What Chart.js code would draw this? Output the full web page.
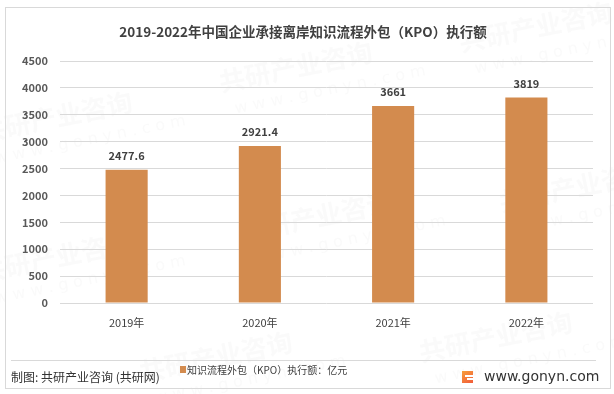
<!DOCTYPE html>
<html>
<head>
<meta charset="utf-8">
<script src="https://cdn.jsdelivr.net/npm/chart.js@4.4.1/dist/chart.umd.min.js"></script>
<style>
  html, body { margin: 0; padding: 0; background: #fff; }
  #wrap { width: 614px; height: 394px; }
</style>
</head>
<body>
<div id="wrap"><canvas id="myChart" width="614" height="394"></canvas></div>
<script>
const years = ["2019年", "2020年", "2021年", "2022年"];
const kpoValues = [2477.6, 2921.4, 3661, 3819];
const valueLabels = ["2477.6", "2921.4", "3661", "3819"];
const yTicks = [0, 500, 1000, 1500, 2000, 2500, 3000, 3500, 4000, 4500];

const titleText = "2019-2022年中国企业承接离岸知识流程外包（KPO）执行额";
const legendText = "知识流程外包（KPO）执行额：亿元";
const barColor = "#d38b4e";
const cjk = "'Noto Sans CJK SC', 'Noto Sans', sans-serif";

// background, watermark, frame, title, value labels and footer
const decor = {
  id: "decor",
  beforeDraw(chart) {
    const c = chart.ctx;
    c.save();
    c.fillStyle = "#fff";
    c.fillRect(0, 0, chart.width, chart.height);
    // faint watermark
    c.fillStyle = "rgba(190,190,190,0.08)";
    const marks = [[40, 130], [280, 80], [520, 40], [40, 270], [300, 230], [560, 200], [200, 370], [480, 350]];
    marks.forEach(([x, y]) => {
      c.save();
      c.translate(x, y);
      c.rotate(-0.2);
      c.font = "bold 26px " + cjk;
      c.fillText("共研产业咨询", -60, 0);
      c.font = "16px 'DejaVu Sans'";
      c.fillText("w w w . g o n y n . c o m", -50, 24);
      c.restore();
    });
    c.restore();
  },
  afterDatasetsDraw(chart) {
    const c = chart.ctx;
    c.save();
    // value labels
    c.font = "bold 11px " + cjk;
    c.fillStyle = "#404040";
    c.textAlign = "center";
    c.textBaseline = "middle";
    chart.getDatasetMeta(0).data.forEach((bar, i) => {
      c.fillText(valueLabels[i], bar.x, bar.y - 14);
    });
    c.restore();
  },
  afterDraw(chart) {
    const c = chart.ctx;
    c.save();
    // frame
    c.strokeStyle = "#d9d9d9";
    c.lineWidth = 1;
    c.strokeRect(5.5, 7.5, 605, 381);
    // title
    c.font = "bold 13.5px " + cjk;
    c.fillStyle = "#404040";
    c.textAlign = "center";
    c.textBaseline = "middle";
    c.fillText(titleText, 303, 32);
    // separator
    c.beginPath();
    c.moveTo(11, 360.5);
    c.lineTo(596, 360.5);
    c.stroke();
    // footer left
    c.textAlign = "left";
    c.fillStyle = "#333";
    c.font = "12px " + cjk;
    c.fillText("制图: 共研产业咨询 (共研网)", 11, 377);
    // legend
    c.fillStyle = barColor;
    c.fillRect(180, 366, 6, 7);
    c.fillStyle = "#404040";
    c.font = "10px " + cjk;
    c.fillText(legendText, 187, 370);
    // logo
    const g = c.createLinearGradient(462, 370, 472, 384);
    g.addColorStop(0, "#f7a23b");
    g.addColorStop(1, "#f15a3a");
    c.fillStyle = g;
    c.fillRect(462, 371, 11, 12);
    c.fillStyle = "#fff";
    c.fillRect(465, 375, 8, 2);
    c.fillRect(467, 378, 6, 2);
    // site
    c.fillStyle = "#333";
    c.font = "14px 'DejaVu Sans', sans-serif";
    c.fillText("www.gonyn.com", 484, 377);
    c.restore();
  }
};

new Chart(document.getElementById("myChart").getContext("2d"), {
  type: "bar",
  data: {
    labels: years,
    datasets: [{
      label: legendText,
      data: kpoValues,
      backgroundColor: barColor,
      categoryPercentage: 1,
      barPercentage: 0.316
    }]
  },
  options: {
    responsive: false,
    animation: false,
    events: [],
    layout: { padding: { top: 61, right: 21, left: 0, bottom: 0 } },
    plugins: {
      legend: { display: false },
      title: { display: false },
      tooltip: { enabled: false }
    },
    scales: {
      x: {
        grid: { display: false },
        border: { display: false },
        ticks: {
          color: "#404040",
          padding: 5,
          font: { size: 11, family: cjk }
        },
        afterFit(scale) { scale.height = 91; }
      },
      y: {
        min: 0,
        max: 4500,
        afterBuildTicks(scale) { scale.ticks = yTicks.map(v => ({ value: v })); },
        grid: { color: "#d9d9d9", drawTicks: false },
        border: { display: false },
        ticks: {
          color: "#595959",
          padding: 12,
          font: { size: 11, weight: "bold", family: cjk },
          callback: v => String(v)
        },
        afterFit(scale) { scale.width = 60; }
      }
    }
  },
  plugins: [decor]
});
</script>
</body>
</html>
